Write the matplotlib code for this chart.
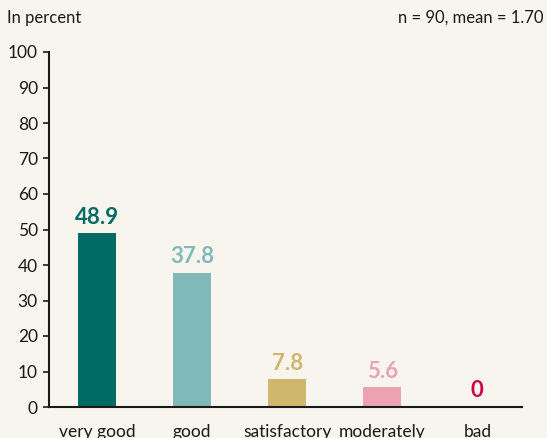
import matplotlib.pyplot as plt

plt.rcParams['font.family'] = ['Lato', 'DejaVu Sans']

categories = ["very good", "good", "satisfactory", "moderately", "bad"]
values = [48.9, 37.8, 7.8, 5.6, 0]
value_labels = ["48.9", "37.8", "7.8", "5.6", "0"]
bar_colors = ["#006b63", "#80bab8", "#cfb86e", "#eba3b2", "#d4004e"]
yticks = list(range(0, 101, 10))

bg = "#f8f5ee"
fig = plt.figure(figsize=(5.47, 4.38), dpi=100, facecolor=bg)
ax = fig.add_axes([49 / 547, 31 / 438, (522 - 49) / 547, (407 - 52) / 438])
ax.set_facecolor(bg)

x = list(range(len(categories)))
ax.bar(x, values, width=0.4, color=bar_colors)
for xi, v, lab, c in zip(x, values, value_labels, bar_colors):
    ax.annotate(lab, (xi, v), xytext=(0, 4), textcoords="offset points",
                ha="center", va="bottom", fontsize=16, fontweight="bold", color=c)

ax.set_xlim(-0.505, 4.47)
ax.set_ylim(0, 100)
ax.set_yticks(yticks)
ax.set_xticks(x)
ax.set_xticklabels(categories)
ax.tick_params(axis="x", length=0, pad=12, labelsize=12.5, colors="#1a1a1a")
ax.tick_params(axis="y", length=4, width=1.2, pad=4, labelsize=12.5, colors="#1a1a1a")
for s in ["top", "right"]:
    ax.spines[s].set_visible(False)
for s in ["left", "bottom"]:
    ax.spines[s].set_linewidth(1.5)
    ax.spines[s].set_color("#1a1a1a")

fig.text(7 / 547, 1 - 18 / 438, "In percent", ha="left", va="center", fontsize=12, color="#1a1a1a")
fig.text(543 / 547, 1 - 18 / 438, "n = 90, mean = 1.70", ha="right", va="center", fontsize=12, color="#1a1a1a")

fig.savefig("out.png", dpi=100, facecolor=bg)
